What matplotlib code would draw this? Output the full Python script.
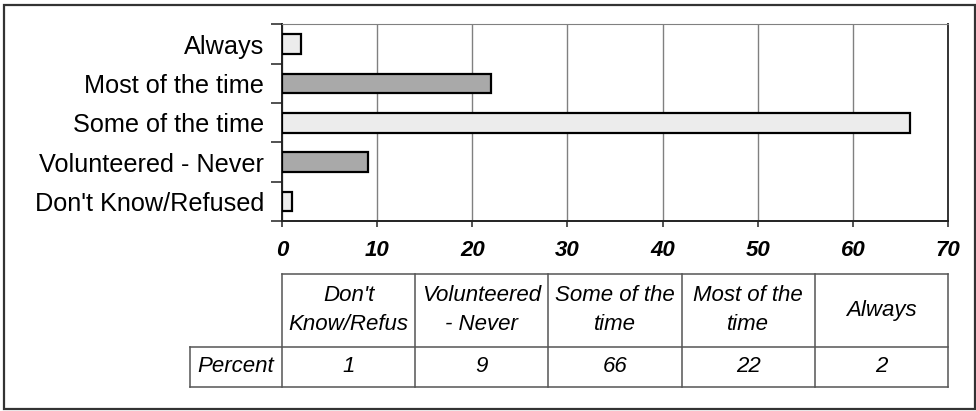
import matplotlib

matplotlib.use("Agg")
import matplotlib.pyplot as plt
from matplotlib.patches import Rectangle

# categories bottom-to-top (same order as the data table columns)
CATEGORIES = ["Don't Know/Refused", "Volunteered - Never", "Some of the time",
              "Most of the time", "Always"]
TABLE_HEADERS = ["Don't\nKnow/Refus", "Volunteered\n- Never", "Some of the\ntime",
                 "Most of the\ntime", "Always"]
PERCENT = [1, 9, 66, 22, 2]
ROW_LABEL = "Percent"
XTICKS = [0, 10, 20, 30, 40, 50, 60, 70]
FILLS = ["#ececec", "#a9a9a9", "#ececec", "#a9a9a9", "#ececec"]

plt.rcParams["font.family"] = ["Liberation Sans", "DejaVu Sans"]

fig = plt.figure(figsize=(9.76, 4.11), dpi=100)
W, H = 976, 411
# outer chart border
fig.patches.append(Rectangle((4 / W, 1 - 409 / H), 971 / W, 404 / H,
                             transform=fig.transFigure, fill=False,
                             edgecolor="#333333", lw=1.6))

ax = fig.add_axes([282 / W, 1 - 221 / H, 666 / W, 196.5 / H])
ypos = list(range(len(CATEGORIES)))
ax.barh(ypos, PERCENT, height=0.5, color=FILLS, edgecolor="black",
        lw=1.6, zorder=3)
ax.set_xlim(0, 70)
ax.set_ylim(-0.5, len(CATEGORIES) - 0.5)
ax.set_xticks(XTICKS)
ax.set_xticklabels([str(t) for t in XTICKS], fontsize=16,
                   fontweight="bold", fontstyle="italic")
ax.set_yticks(ypos)
ax.set_yticklabels(CATEGORIES, fontsize=18.2)
ax.set_yticks([y - 0.5 for y in ypos] + [len(CATEGORIES) - 0.5], minor=True)
ax.tick_params(axis="y", which="major", length=0, pad=13)
ax.tick_params(axis="y", which="minor", length=8, width=1.2, color="#333333")
ax.tick_params(axis="x", length=4, width=1.2, color="#333333", pad=10)
ax.grid(axis="x", color="#808080", lw=1, zorder=0)
for side in ["left", "bottom"]:
    ax.spines[side].set_color("#222222")
    ax.spines[side].set_linewidth(1.4)
ax.spines["top"].set_color("#808080")
ax.spines["right"].set_color("#333333")
ax.spines["right"].set_linewidth(1.4)

# data table under the axis
y_top, y_mid, y_bot = -0.2697, -0.641, -0.845
x_lab = -0.138
n = len(TABLE_HEADERS)
lkw = dict(transform=ax.transAxes, clip_on=False, color="#555555", lw=1.1)
ax.plot([0, 1], [y_top, y_top], **lkw)
ax.plot([x_lab, 1], [y_mid, y_mid], **lkw)
ax.plot([x_lab, 1], [y_bot, y_bot], **lkw)
ax.plot([x_lab, x_lab], [y_mid, y_bot], **lkw)
for i in range(n + 1):
    ax.plot([i / n, i / n], [y_top, y_bot], **lkw)
tkw = dict(transform=ax.transAxes, ha="center", va="center",
           fontsize=16, fontstyle="italic", clip_on=False)
for i, (hdr, val) in enumerate(zip(TABLE_HEADERS, PERCENT)):
    xc = (i + 0.5) / n
    ax.text(xc, (y_top + y_mid) / 2, hdr, linespacing=1.5, **tkw)
    ax.text(xc, (y_mid + y_bot) / 2, str(val), **tkw)
ax.text((x_lab + 0) / 2, (y_mid + y_bot) / 2, ROW_LABEL, **tkw)

fig.savefig("out.png", dpi=100)
